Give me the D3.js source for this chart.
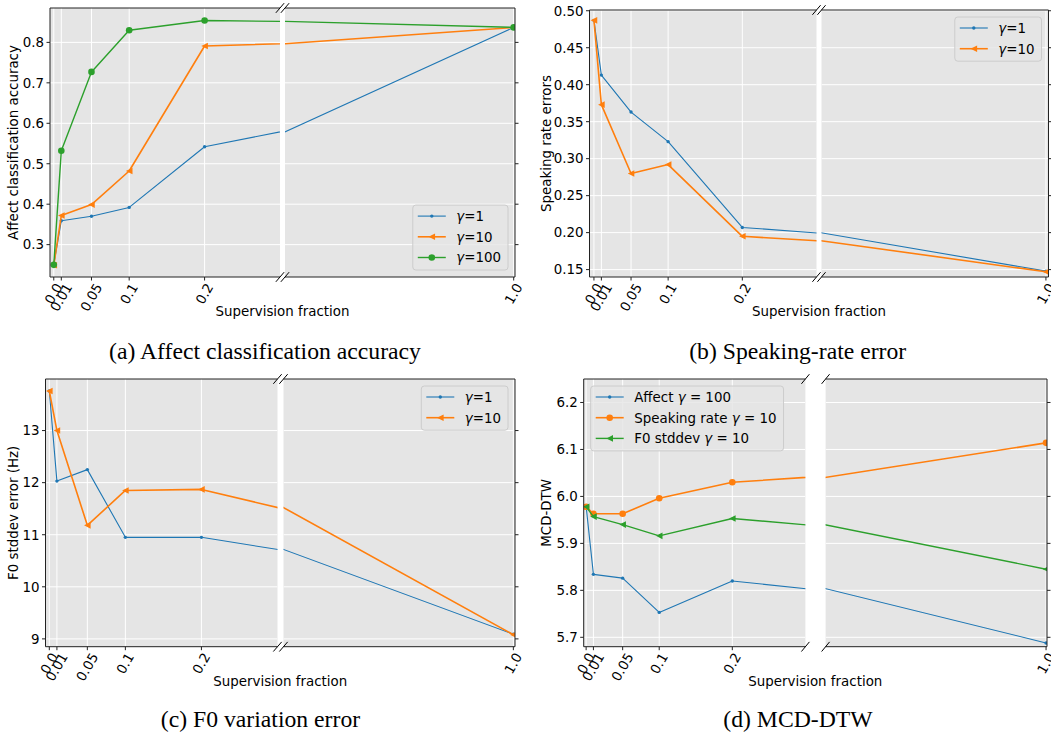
<!DOCTYPE html>
<html>
<head>
<meta charset="utf-8">
<script src="https://cdn.jsdelivr.net/npm/d3@7"></script>
<style>
  body { margin: 0; background: #fff; }
  svg { display: block; font-family: "DejaVu Sans", sans-serif; }
</style>
</head>
<body>
<div id="viz"></div>
<script>
// x values (supervision fraction) and their tick labels
const fractions = [0.0, 0.01, 0.05, 0.1, 0.2, 1.0];
const fractionLabels = ["0.0", "0.01", "0.05", "0.1", "0.2", "1.0"];

// (a) affect classification accuracy
const affectG1 = [0.251, 0.359, 0.370, 0.392, 0.542, 0.837];
const affectG10 = [0.249, 0.372, 0.399, 0.482, 0.791, 0.837];
const affectG100 = [0.250, 0.532, 0.727, 0.830, 0.854, 0.837];

// (b) speaking rate errors
const rateG1 = [0.487, 0.413, 0.363, 0.323, 0.207, 0.148];
const rateG10 = [0.487, 0.373, 0.280, 0.292, 0.195, 0.147];

// (c) F0 stddev error (Hz)
const f0G1 = [13.76, 12.03, 12.25, 10.95, 10.95, 9.09];
const f0G10 = [13.76, 13.00, 11.18, 11.85, 11.87, 9.08];

// (d) MCD-DTW
const mcdAffect = [5.979, 5.834, 5.826, 5.753, 5.820, 5.688];
const mcdRate = [5.978, 5.963, 5.963, 5.996, 6.030, 6.114];
const mcdF0 = [5.978, 5.957, 5.940, 5.916, 5.953, 5.845];

// y tick values
const affectTicks = [0.3, 0.4, 0.5, 0.6, 0.7, 0.8];
const rateTicks = [0.15, 0.20, 0.25, 0.30, 0.35, 0.40, 0.45, 0.50];
const f0Ticks = [9, 10, 11, 12, 13];
const mcdTicks = [5.7, 5.8, 5.9, 6.0, 6.1, 6.2];

const gammaLabels = ["γ=1", "γ=10", "γ=100"];
const mcdLabels = ["Affect γ = 100", "Speaking rate γ = 10", "F0 stddev γ = 10"];
const yLabels = ["Affect classification accuracy", "Speaking rate errors", "F0 stddev error (Hz)", "MCD-DTW"];
const captions = ["(a) Affect classification accuracy", "(b) Speaking-rate error", "(c) F0 variation error", "(d) MCD-DTW"];

const blue = "#1f77b4", orange = "#ff7f0e", green = "#2ca02c";
const fs = 13.4;

const panels = [
  {box: [50, 280, 285, 515, 8, 277], xl: [-0.005, 0.3], xr: [0.3, 1.004], y: [0.22, 0.885],
   ticks: affectTicks, fmt: ".1f", ylx: 13.4, legend: "lower right", cap: [265, 359],
   series: [
     {v: affectG1, c: blue, m: "point", w: 1.1, label: gammaLabels[0]},
     {v: affectG10, c: orange, m: "tri", w: 1.6, label: gammaLabels[1]},
     {v: affectG100, c: green, m: "circle", w: 1.4, label: gammaLabels[2]}]},
  {box: [589.5, 816.5, 821.5, 1048.5, 10, 277], xl: [-0.006, 0.3], xr: [0.3, 1.008], y: [0.14, 0.501],
   ticks: rateTicks, fmt: ".2f", ylx: 546.6, legend: "upper right", cap: [797.7, 359],
   series: [
     {v: rateG1, c: blue, m: "point", w: 1.1, label: gammaLabels[0]},
     {v: rateG10, c: orange, m: "tri", w: 1.6, label: gammaLabels[1]}]},
  {box: [45.5, 277.5, 283.5, 515, 379, 646.7], xl: [-0.005, 0.3], xr: [0.3, 1.005], y: [8.85, 13.99],
   ticks: f0Ticks, fmt: "d", ylx: 13.4, legend: "upper right", cap: [260.5, 726.5],
   series: [
     {v: f0G1, c: blue, m: "point", w: 1.1, label: gammaLabels[0]},
     {v: f0G10, c: orange, m: "tri", w: 1.6, label: gammaLabels[1]}]},
  {box: [583.7, 805.4, 825.6, 1047, 379, 646.7], xl: [-0.0033, 0.3], xr: [0.3, 1.003], y: [5.68, 6.25],
   ticks: mcdTicks, fmt: ".1f", ylx: 546.4, legend: "upper left", cap: [798, 726.5],
   series: [
     {v: mcdAffect, c: blue, m: "point", w: 1.1, label: mcdLabels[0]},
     {v: mcdRate, c: orange, m: "circle", w: 1.6, label: mcdLabels[1]},
     {v: mcdF0, c: green, m: "tri", w: 1.4, label: mcdLabels[2]}]}
];

const svg = d3.select("#viz").append("svg")
    .attr("width", 1051)
    .attr("height", 732);
const defs = svg.append("defs");

function addMarker(g, kind, color, x, y) {
  if (kind === "tri") {
    const s = 3.3;
    g.append("path")
      .attr("d", `M${x - s},${y}L${x + s},${y - s}L${x + s},${y + s}Z`)
      .attr("fill", color);
  } else {
    g.append("circle")
      .attr("cx", x).attr("cy", y)
      .attr("r", kind === "circle" ? 3.3 : 1.7)
      .attr("fill", color);
  }
}

function gammaText(t, label) {
  const parts = label.split("γ");
  t.append("tspan").text(parts[0]);
  t.append("tspan").attr("font-style", "italic").text("γ");
  t.append("tspan").text(parts[1]);
}

panels.forEach((p, idx) => {
  const [x0, gl, gr, x1, y0, y1] = p.box;
  const y = d3.scaleLinear().domain(p.y).range([y1, y0]);
  const fmt = d3.format(p.fmt);
  const g = svg.append("g").attr("font-size", fs);

  const subs = [
    {x: d3.scaleLinear().domain(p.xl).range([x0, gl]), idx: [0, 1, 2, 3, 4], left: true},
    {x: d3.scaleLinear().domain(p.xr).range([gr, x1]), idx: [5], left: false}
  ];

  subs.forEach((s, k) => {
    const [a, b] = s.x.range();
    const clipId = `clip${idx}_${k}`;
    defs.append("clipPath").attr("id", clipId)
      .append("rect").attr("x", a).attr("y", y0).attr("width", b - a).attr("height", y1 - y0);

    g.append("rect")
      .attr("x", a).attr("y", y0).attr("width", b - a).attr("height", y1 - y0)
      .attr("fill", "#e5e5e5");

    // grid
    const grid = g.append("g").attr("stroke", "#fff").attr("stroke-width", 1).attr("clip-path", `url(#${clipId})`);
    grid.selectAll(".h").data(p.ticks).enter().append("line")
      .attr("x1", a).attr("x2", b).attr("y1", d => y(d)).attr("y2", d => y(d));
    grid.selectAll(".v").data(s.idx).enter().append("line")
      .attr("x1", d => s.x(fractions[d])).attr("x2", d => s.x(fractions[d]))
      .attr("y1", y0).attr("y2", y1);

    // series
    const plot = g.append("g").attr("clip-path", `url(#${clipId})`);
    p.series.forEach(ser => {
      plot.append("path")
        .attr("fill", "none")
        .attr("stroke", ser.c)
        .attr("stroke-width", ser.w)
        .attr("stroke-linejoin", "round")
        .attr("d", d3.line().x((d, i) => s.x(fractions[i])).y(d => y(d))(ser.v));
      ser.v.forEach((v, i) => addMarker(plot, ser.m, ser.c, s.x(fractions[i]), y(v)));
    });

    // spines
    const sp = g.append("g").attr("stroke", "#222").attr("stroke-width", 1).attr("fill", "none");
    sp.append("line").attr("x1", a).attr("x2", b).attr("y1", y0).attr("y2", y0);
    sp.append("line").attr("x1", a).attr("x2", b).attr("y1", y1).attr("y2", y1);
    const ex = s.left ? a : b;
    sp.append("line").attr("x1", ex).attr("x2", ex).attr("y1", y0).attr("y2", y1);

    // y ticks
    const dir = s.left ? -1 : 1;
    sp.selectAll(".yt").data(p.ticks).enter().append("line")
      .attr("x1", ex).attr("x2", ex + dir * 3.5)
      .attr("y1", d => y(d)).attr("y2", d => y(d));
    if (s.left) {
      g.selectAll(null).data(p.ticks).enter().append("text")
        .attr("x", a - 6).attr("y", d => y(d)).attr("dy", "0.36em")
        .attr("text-anchor", "end").attr("fill", "#000")
        .text(d => fmt(d));
    }

    // x ticks and rotated labels
    s.idx.forEach(i => {
      const tx = s.x(fractions[i]);
      sp.append("line").attr("x1", tx).attr("x2", tx).attr("y1", y1).attr("y2", y1 + 3.5);
      const t = g.append("text")
        .attr("text-anchor", "middle")
        .attr("dominant-baseline", "central")
        .text(fractionLabels[i]);
      const w = t.node().getComputedTextLength();
      const hh = w * Math.sin(Math.PI / 3) + fs * 0.75 * Math.cos(Math.PI / 3);
      t.attr("transform", `translate(${tx},${y1 + 5 + hh / 2}) rotate(-60)`);
    });

    // break marks
    const bx = s.left ? b : a;
    const dx = 0.018 * (b - a), dy = 0.018 * (y1 - y0);
    [y0, y1].forEach(cy => {
      g.append("line")
        .attr("x1", bx - dx).attr("y1", cy + dy)
        .attr("x2", bx + dx).attr("y2", cy - dy)
        .attr("stroke", "#000").attr("stroke-width", 1);
    });
  });

  // axis labels
  g.append("text")
    .attr("transform", `translate(${p.ylx},${(y0 + y1) / 2}) rotate(-90)`)
    .attr("text-anchor", "middle").attr("dominant-baseline", "central")
    .text(yLabels[idx]);
  g.append("text")
    .attr("x", (x0 + x1) / 2).attr("y", y1 + 39)
    .attr("text-anchor", "middle")
    .text("Supervision fraction");

  // legend
  const lg = g.append("g");
  const texts = p.series.map((ser, i) => {
    const t = lg.append("text").attr("dy", "0.36em");
    gammaText(t, ser.label);
    return t;
  });
  const tw = d3.max(texts, t => t.node().getComputedTextLength());
  const bw = 5 + 28 + 10.5 + tw + 7;
  const bh = 11 + (p.series.length - 1) * 20.7 + 12.5;
  const pad = 7;
  const lx = p.legend === "upper left" ? x0 + pad : x1 - pad - bw;
  const ly = p.legend === "lower right" ? y1 - pad - bh : y0 + pad;
  lg.insert("rect", ":first-child")
    .attr("x", lx).attr("y", ly).attr("width", bw).attr("height", bh)
    .attr("rx", 3)
    .attr("fill", "#e5e5e5").attr("fill-opacity", 0.8)
    .attr("stroke", "#cccccc").attr("stroke-width", 1);
  p.series.forEach((ser, i) => {
    const ry = ly + 11 + i * 20.7;
    lg.append("line")
      .attr("x1", lx + 5).attr("x2", lx + 33).attr("y1", ry).attr("y2", ry)
      .attr("stroke", ser.c).attr("stroke-width", ser.w);
    addMarker(lg, ser.m, ser.c, lx + 19, ry);
    texts[i].attr("x", lx + 43.5).attr("y", ry).raise();
  });

  // caption
  svg.append("text")
    .attr("x", p.cap[0]).attr("y", p.cap[1])
    .attr("text-anchor", "middle")
    .attr("font-family", "'Liberation Serif', 'Times New Roman', serif")
    .attr("font-size", 23.7)
    .text(captions[idx]);
});
</script>
</body>
</html>
